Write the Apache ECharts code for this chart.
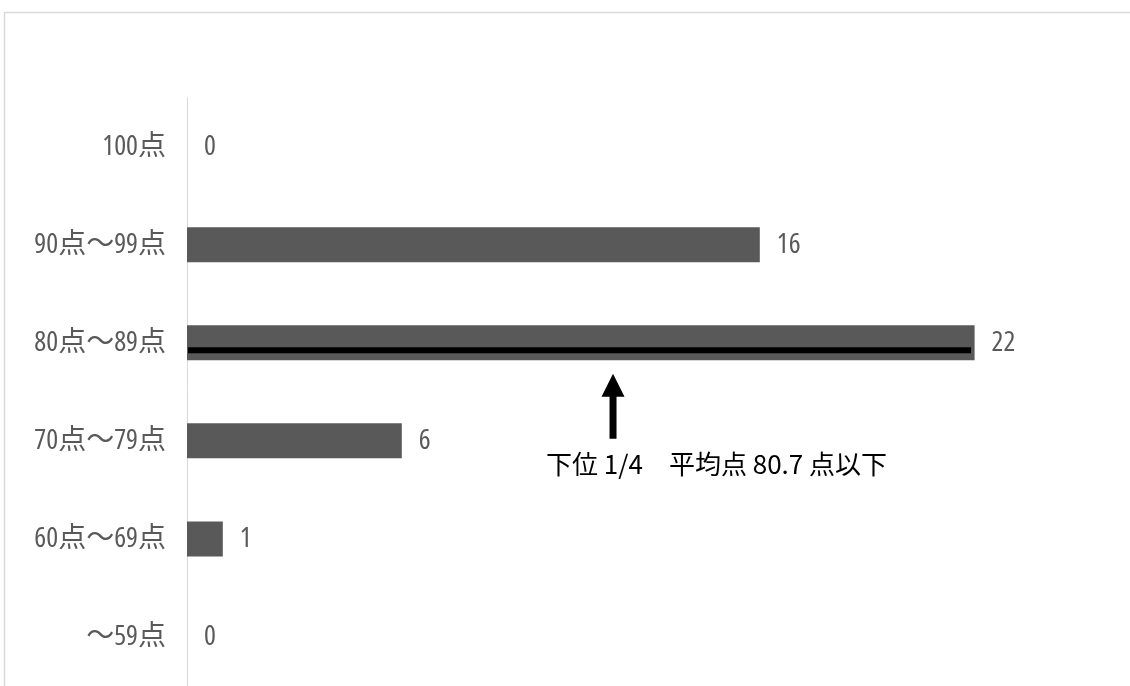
<!DOCTYPE html>
<html>
<head>
<meta charset="utf-8">
<script src="https://cdn.jsdelivr.net/npm/echarts@6/dist/echarts.min.js"></script>
<style>
html,body{margin:0;padding:0;background:#fff;}
#chart{width:1130px;height:686px;}
</style>
</head>
<body>
<div id="chart"></div>
<script>
const categories = ['100点', '90点～99点', '80点～89点', '70点～79点', '60点～69点', '～59点'];
const counts = [0, 16, 22, 6, 1, 0];
const markCategory = '80点～89点';
const markLineEnd = 21.9;
const arrowValue = 11.9;
const noteText = '下位 1/4　平均点 80.7 点以下';

// pick the narrowest installed sans face for the condensed-looking labels
function pickNarrow() {
  const ctx = document.createElement('canvas').getContext('2d');
  const cands = [
    ['normal', "'Liberation Sans Narrow'"],
    ['normal', "'DejaVu Sans Condensed'"],
    ['condensed', "'DejaVu Sans'"],
    ['condensed', "'Noto Sans'"],
    ['condensed', "'Open Sans'"],
    ['condensed', "Roboto"],
    ['condensed', "'Liberation Sans'"],
    ['normal', "'Noto Sans'"]
  ];
  let best = null, bestW = Infinity;
  for (const [pre, fam] of cands) {
    ctx.font = '10px serif';
    ctx.font = pre + ' 28px ' + fam + ', monospace';
    if (ctx.font.indexOf('28px') < 0) continue;
    const w1 = ctx.measureText('0123456789').width;
    ctx.font = pre + ' 28px ' + fam + ', serif';
    const w2 = ctx.measureText('0123456789').width;
    if (Math.abs(w1 - w2) > 0.01) continue; // family not installed
    if (w1 < bestW - 0.5) { bestW = w1; best = [pre, fam]; }
  }
  return best || ['normal', "'Noto Sans'"];
}
const nf = pickNarrow();
const narrowStyle = nf[0];
const narrowFont = nf[1] + ", 'Noto Sans CJK JP', sans-serif";

const chart = echarts.init(document.getElementById('chart'), null, {renderer: 'canvas'});
const option = {
  backgroundColor: '#ffffff',
  animation: false,
  grid: {left: 187, right: 48, top: 97.5, height: 597},
  xAxis: {type: 'value', min: 0, max: 25, show: false, splitLine: {show: false}},
  yAxis: {
    type: 'category',
    inverse: true,
    data: categories,
    axisLine: {show: true, lineStyle: {color: '#d9d9d9', width: 1}},
    axisTick: {show: false},
    axisLabel: {color: '#595959', fontSize: 28, fontStyle: narrowStyle, fontFamily: narrowFont, margin: 21}
  },
  series: [{
    type: 'bar',
    data: counts,
    barWidth: 35,
    itemStyle: {color: '#595959'},
    label: {show: true, position: 'right', distance: 17, color: '#595959', fontSize: 28, fontStyle: narrowStyle, fontFamily: narrowFont}
  }]
};
chart.setOption(option);

const start = chart.convertToPixel({gridIndex: 0}, [0, markCategory]);
const end = chart.convertToPixel({gridIndex: 0}, [markLineEnd, markCategory]);
const arrowBase = chart.convertToPixel({gridIndex: 0}, [arrowValue, markCategory]);
const ly = start[1] + 7.5;
const ax = arrowBase[0];
const tipY = start[1] + 31;
chart.setOption({
  graphic: [
    {type: 'rect', z: 0, shape: {x: 4.5, y: 12.5, width: 1300, height: 900}, style: {fill: 'none', stroke: '#d9d9d9', lineWidth: 1.5}, silent: true},
    {type: 'line', z: 100, shape: {x1: start[0] + 1, y1: ly, x2: end[0], y2: ly}, style: {stroke: '#000', lineWidth: 6}},
    {type: 'polygon', z: 100, shape: {points: [
      [ax, tipY], [ax + 11.5, tipY + 23], [ax + 3.5, tipY + 23], [ax + 3.5, tipY + 65],
      [ax - 3.5, tipY + 65], [ax - 3.5, tipY + 23], [ax - 11.5, tipY + 23]
    ]}, style: {fill: '#000'}},
    {type: 'text', z: 100, x: ax - 67, y: tipY + 90, style: {text: noteText, fill: '#000', fontSize: 26, fontFamily: "'Noto Sans CJK JP', sans-serif", verticalAlign: 'middle', align: 'left'}}
  ]
});
</script>
</body>
</html>
